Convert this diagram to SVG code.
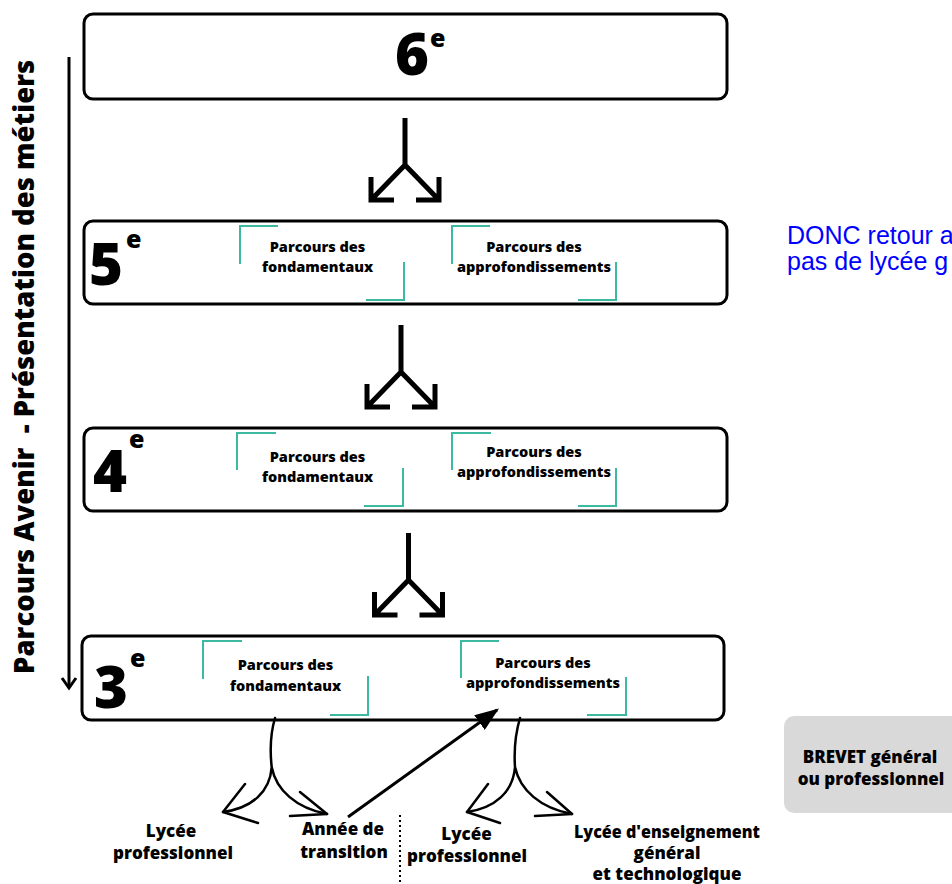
<svg xmlns="http://www.w3.org/2000/svg" width="952" height="884" viewBox="0 0 952 884">
<defs>
<style>
.box{fill:#fff;stroke:#000;stroke-width:3}
.big{font-family:"Open Sans","DejaVu Sans",sans-serif;font-weight:800;font-size:58px;fill:#000}
.sup{font-family:"Open Sans","DejaVu Sans",sans-serif;font-weight:800;font-size:25px;fill:#000}
.p{font-family:"Open Sans","DejaVu Sans",sans-serif;font-weight:800;font-size:14.5px;fill:#000;text-anchor:middle}
.lbl{font-family:"Open Sans","DejaVu Sans",sans-serif;font-weight:800;font-size:17px;fill:#000;text-anchor:middle}
.side{font-family:"Open Sans","DejaVu Sans",sans-serif;font-weight:800;font-size:27.5px;fill:#000;white-space:pre}
.note{font-family:"Liberation Sans",Arial,sans-serif;font-size:25px;fill:#0000ff}
.teal{fill:none;stroke:#3cb9a0;stroke-width:2}
.split{fill:none;stroke:#000;stroke-width:5;stroke-linejoin:miter}
.curve{fill:none;stroke:#000;stroke-width:2.5;stroke-linecap:round;stroke-linejoin:round}
</style>
<marker id="tri" viewBox="0 0 10 10" refX="9" refY="5" markerWidth="8" markerHeight="6" orient="auto" markerUnits="strokeWidth" preserveAspectRatio="none">
<path d="M0,0 L10,5 L0,10 z" fill="#000"/>
</marker>
</defs>
<rect width="952" height="884" fill="#fff"/>

<g id="side-label">
<text class="side" transform="translate(34,674) rotate(-90)">Parcours Avenir  - Présentation des métiers</text>
</g>

<g id="node-6e">
<rect class="box" x="84" y="14" width="643" height="85" rx="9"/>
<text class="big" x="395" y="75">6</text>
<text class="sup" x="430" y="47">e</text>
</g>

<g id="node-5e">
<rect class="box" x="84" y="221" width="643" height="83" rx="9"/>
<text class="big" x="89" y="285">5</text>
<text class="sup" x="126" y="248">e</text>
<path class="teal" d="M240,264 V226 H278 M404,262 V300 H366"/>
<text class="p" x="317.5" y="252">Parcours des</text>
<text class="p" x="317.5" y="272">fondamentaux</text>
<path class="teal" d="M452,264 V226 H490 M616,262 V300 H578"/>
<text class="p" x="534" y="252">Parcours des</text>
<text class="p" x="534" y="272">approfondissements</text>
</g>

<g id="node-4e">
<rect class="box" x="84" y="428" width="643" height="83" rx="9"/>
<text class="big" x="93" y="492">4</text>
<text class="sup" x="129" y="448">e</text>
<path class="teal" d="M237,470 V433 H276 M403,468 V506 H364"/>
<text class="p" x="317.5" y="462">Parcours des</text>
<text class="p" x="317.5" y="482">fondamentaux</text>
<path class="teal" d="M452,470 V433 H491 M616,468 V506 H578"/>
<text class="p" x="534" y="457">Parcours des</text>
<text class="p" x="534" y="477">approfondissements</text>
</g>

<g id="node-3e">
<rect class="box" x="82" y="636" width="642" height="84" rx="9"/>
<text class="big" x="94" y="708">3</text>
<text class="sup" x="130" y="667">e</text>
<path class="teal" d="M203,679 V641 H242 M368,676 V715 H330"/>
<text class="p" x="285.5" y="670">Parcours des</text>
<text class="p" x="285.5" y="691">fondamentaux</text>
<path class="teal" d="M461,678 V641 H499 M626,677 V715 H587"/>
<text class="p" x="543" y="668">Parcours des</text>
<text class="p" x="543" y="688">approfondissements</text>
</g>

<g id="node-brevet">
<rect x="784" y="716" width="190" height="97" rx="10" fill="#d9d9d9"/>
<text class="lbl" x="870" y="763">BREVET général</text>
<text class="lbl" x="871" y="785">ou professionnel</text>
</g>

<g id="node-lp1">
<text class="lbl" x="171" y="837">Lycée</text>
<text class="lbl" x="173" y="859">professionnel</text>
</g>
<g id="node-transition">
<text class="lbl" x="343" y="835">Année de</text>
<text class="lbl" x="344" y="858">transition</text>
</g>
<g id="node-lp2">
<text class="lbl" x="466.5" y="840">Lycée</text>
<text class="lbl" x="467" y="862">professionnel</text>
</g>
<g id="node-lgt">
<text class="lbl" x="667" y="838" textLength="186" lengthAdjust="spacingAndGlyphs">Lycée d'enseignement</text>
<text class="lbl" x="667" y="859">général</text>
<text class="lbl" x="667" y="880">et technologique</text>
</g>

<g id="note">
<text class="note" x="787" y="244">DONC retour a</text>
<text class="note" x="787" y="270">pas de lycée g</text>
</g>

<g id="connectors">
<path d="M69,57 V688" fill="none" stroke="#000" stroke-width="3"/>
<path d="M62,678 L69,688 L76,678" fill="none" stroke="#000" stroke-width="3"/>

<path class="split" d="M405,118 V165 L371,200 M405,165 L439,200 M371,177 V200 H394 M439,177 V200 H416"/>
<path class="split" d="M401,325 V372 L367,407 M401,372 L435,407 M367,384 V407 H390 M435,384 V407 H412"/>
<path class="split" d="M408.5,533 V580 L374.5,615 M408.5,580 L442.5,615 M374.5,592 V615 H397.5 M442.5,592 V615 H419.5"/>

<path class="curve" d="M275,718 C270,735 270,752 271.7,767 C270,792 252,808 223,812 M271.7,767 C276,790 296,808 327,814"/>
<path class="curve" d="M245,784 L223,812 L258,823 M300,792 L327,814 L290,816"/>
<path class="curve" d="M520,718 C515,735 514,752 515,767 C513,792 495,808 467,812 M515,767 C520,790 540,808 572,814"/>
<path class="curve" d="M488,784 L467,812 L500,823 M547,792 L572,814 L535,816"/>

<line x1="348" y1="817" x2="497" y2="710" stroke="#000" stroke-width="3" marker-end="url(#tri)"/>
<line x1="400" y1="815" x2="400" y2="884" stroke="#000" stroke-width="2" stroke-dasharray="2,3"/>
</g>
</svg>
